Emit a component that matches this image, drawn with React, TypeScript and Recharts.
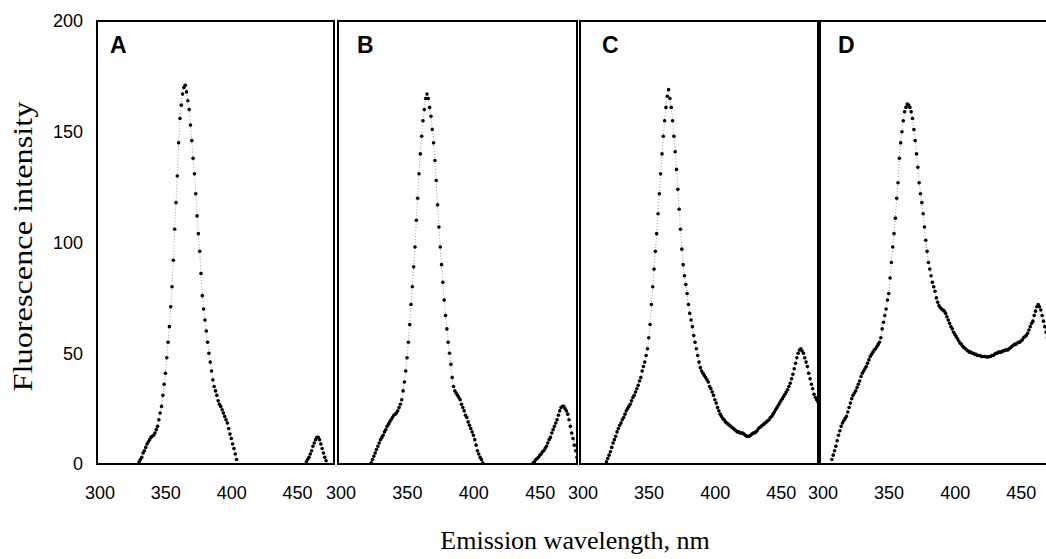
import React from 'react';
import { LineChart, Line, XAxis, YAxis, ReferenceArea } from 'recharts';

// Axes
const X_TICKS = [300, 350, 400, 450];
const Y_TICKS = [0, 50, 100, 150, 200];
const X_DOMAIN: [number, number] = [300, 480];
const Y_DOMAIN: [number, number] = [0, 200];
const PANEL_LABELS = ['A', 'B', 'C', 'D'];
const Y_TITLE = 'Fluorescence intensity';
const X_TITLE = 'Emission wavelength, nm';

// Spectra, sampled every 1 nm starting at the given wavelength
const A_PEAK_START = 332;
const A_PEAK = [1, 2, 3, 5, 6, 7.5, 9, 10, 11, 12, 12.5, 13, 14, 15.5, 17, 20, 23, 26, 31, 36, 41, 48, 55, 62, 71, 80, 92, 106, 118, 130, 145, 156, 162, 167, 170, 171, 168, 164, 160, 153, 146, 138, 131, 122, 112, 104, 96, 86, 76, 70, 65, 60, 55, 50, 46, 42, 38, 35, 33, 31, 28.5, 27, 26, 24.5, 23, 21.5, 20, 18.5, 16, 13.5, 11.5, 9, 7, 4.5, 2];
const A_TAIL_START = 459;
const A_TAIL = [1, 2, 3, 4.5, 6, 8, 9.5, 11, 12, 12, 11, 9, 7, 5, 3, 1.5];

const B_PEAK_START = 325;
const B_PEAK = [0.5, 2, 3.5, 5, 6.5, 8, 9.5, 11, 12, 13, 14.5, 15.5, 17, 18, 19, 20, 21, 22, 22.5, 23, 24, 25.5, 27, 29, 33, 37, 42, 48, 55, 63, 72, 80, 89, 98, 110, 120, 131, 140, 148, 155, 160, 165, 167, 165, 161, 157, 151, 145, 137, 128, 117, 107, 98, 90, 82, 74, 67, 61, 55, 50, 45, 39, 35, 33, 32, 31, 30, 29, 27, 25.5, 24, 22, 21, 19, 17.5, 16, 14.5, 13, 11, 8.5, 6, 4.5, 3, 2, 0.5];
const B_TAIL_START = 447;
const B_TAIL = [0.5, 1, 2, 2.5, 3, 4, 4.5, 5.5, 6, 7, 8, 9.5, 11, 12, 14, 15.5, 17, 18.5, 20, 22, 24, 25.5, 26, 26, 25, 24, 22.5, 20, 17, 14, 11.5, 8.5, 6, 3, 1];

const C_START = 320;
const C_VALUES = [1, 2.5, 4, 5.5, 7.5, 9.5, 11, 12.5, 14.5, 16, 17.5, 18.5, 20, 21, 22.5, 24, 25, 26, 27, 28.5, 30, 31, 32.5, 34, 35.5, 37.5, 39, 42, 44, 46, 49, 52, 57, 63, 72, 80, 88, 96, 104, 113, 122, 131, 140, 148, 155, 161, 166, 169, 165, 161, 155, 148, 141, 133, 124, 115, 106, 97, 90, 85, 81, 77, 72, 68, 65, 62, 58, 55, 52, 49, 46, 43.5, 42, 41, 40, 39, 38, 37, 35, 34, 32.5, 31, 29, 27.5, 25.5, 24, 22.5, 21.5, 20.5, 20, 19, 18.5, 18, 17.5, 17, 16.5, 16, 15.5, 15, 14.5, 14.5, 14, 14, 14, 13.5, 13, 12.5, 12.5, 12.5, 13, 13.5, 14, 14, 14.5, 15, 16, 16.5, 17, 17.5, 18, 18.5, 19, 19.5, 20, 21, 21.5, 22.5, 23.5, 24.5, 25.5, 26.5, 27.5, 28.5, 29.5, 30.5, 31.5, 32.5, 33.5, 35, 36.5, 38.5, 40.5, 43, 45.5, 48, 50, 51.5, 52, 51, 50, 48, 46, 44, 41, 38.5, 36, 34, 31.5, 30, 29, 28];

const D_START = 309;
const D_VALUES = [2, 4, 6, 8, 10.5, 13, 15, 17, 18.5, 19.5, 20.5, 21.5, 23.5, 25.5, 27.5, 29.5, 31, 32, 33, 34.5, 36, 37.5, 39.5, 41, 42, 43, 44, 45.5, 47, 48.5, 49.5, 50.5, 51.5, 52, 53, 54, 55, 57, 61, 64, 67, 70, 74, 77, 84, 91, 98, 104, 111, 120, 127, 138, 145, 150, 155, 159, 161, 162.5, 162, 161, 159, 156, 151, 146, 140, 134, 127, 122, 118, 113, 107, 101, 96, 91, 88, 85, 82, 80, 78, 75, 73, 71.5, 70.5, 70, 69.5, 69, 68, 66.5, 65, 63.5, 62, 61, 59.5, 58.5, 57.5, 56.5, 55.5, 54.5, 54, 53, 52.5, 52, 51.5, 51, 50.5, 50.5, 50, 50, 49.5, 49.5, 49, 49, 49, 48.5, 48.5, 48.5, 48.5, 48.3, 48.3, 48.5, 48.5, 49, 49, 49.5, 50, 50, 50.5, 50.5, 50.5, 51, 51, 51.5, 51.5, 51.5, 52, 52.5, 53, 53.5, 54, 54, 54.5, 55, 55, 55.5, 56, 57, 57.5, 58, 59, 60.5, 62, 63.5, 64.5, 67, 69, 71, 72, 71, 69.5, 67, 64.5, 62, 59.5, 57, 54];

type Pt = { wl: number; v: number | null };
const toPoints = (start: number, values: number[]): Pt[] => values.map((v, i) => ({ wl: start + i, v }));
const joinSegments = (...segs: Pt[][]): Pt[] => {
  const out: Pt[] = [];
  segs.forEach((s, i) => {
    if (i > 0) out.push({ wl: (out[out.length - 1].wl + s[0].wl) / 2, v: null });
    out.push(...s);
  });
  return out;
};

const PANEL_DATA: Pt[][] = [
  joinSegments(toPoints(A_PEAK_START, A_PEAK), toPoints(A_TAIL_START, A_TAIL)),
  joinSegments(toPoints(B_PEAK_START, B_PEAK), toPoints(B_TAIL_START, B_TAIL)),
  toPoints(C_START, C_VALUES),
  toPoints(D_START, D_VALUES),
];

const PANEL_LEFT = [97, 338, 580, 820];
const PANEL_WIDTH = [237, 239, 238, 238];
const LETTER_DX = [13, 19, 22, 18];
const SIDE_PAD = 30;

const SANS = '"Liberation Sans", Arial, Helvetica, sans-serif';
const SERIF = '"Liberation Serif", "Times New Roman", Times, serif';
const PLOT_TOP = 21;
const CHART_H = 559;
const XAXIS_H = 95;

function Panel({ idx }: { idx: number }) {
  const first = idx === 0;
  const left = PANEL_LEFT[idx];
  const yAxisW = first ? left : 0;
  const padL = first ? 0 : SIDE_PAD;
  const chartW = yAxisW + padL + PANEL_WIDTH[idx] + SIDE_PAD;
  const letter = PANEL_LABELS[idx];
  const dx = LETTER_DX[idx];
  return (
    <div style={{ position: 'absolute', left: first ? 0 : left - padL, top: 0 }}>
      <LineChart
        width={chartW}
        height={CHART_H}
        data={PANEL_DATA[idx]}
        margin={{ top: PLOT_TOP, right: SIDE_PAD, bottom: 0, left: padL }}
      >
        <XAxis
          type="number"
          dataKey="wl"
          domain={X_DOMAIN}
          ticks={X_TICKS}
          interval={0}
          allowDataOverflow
          height={XAXIS_H}
          axisLine={false}
          tickLine={false}
          tickSize={0}
          tickMargin={22}
          tick={{ fill: '#000', fontSize: 18, fontFamily: SANS, dx: 3 }}
        />
        <YAxis
          type="number"
          domain={Y_DOMAIN}
          ticks={Y_TICKS}
          interval={0}
          hide={!first}
          width={yAxisW}
          axisLine={false}
          tickLine={false}
          tickSize={0}
          tickMargin={14}
          tick={{ fill: '#000', fontSize: 18, fontFamily: SANS }}
          label={
            first
              ? {
                  content: (props: any) => {
                    const vb = props.viewBox || { x: 0, y: PLOT_TOP, width: left, height: 443 };
                    const cx = 32;
                    const cy = vb.y + vb.height / 2 + 4;
                    return (
                      <text
                        x={cx}
                        y={cy}
                        transform={`rotate(-90, ${cx}, ${cy})`}
                        textAnchor="middle"
                        fontSize={28}
                        textLength={290}
                        lengthAdjust="spacingAndGlyphs"
                        fontFamily={SERIF}
                        fill="#000"
                      >
                        {Y_TITLE}
                      </text>
                    );
                  },
                }
              : undefined
          }
        />
        <ReferenceArea
          x1={X_DOMAIN[0]}
          x2={X_DOMAIN[1]}
          y1={Y_DOMAIN[0]}
          y2={Y_DOMAIN[1]}
          fill="none"
          fillOpacity={0}
          stroke="#000"
          strokeWidth={2}
          ifOverflow="visible"
          label={{
            content: (props: any) => {
              const vb = props.viewBox || { x: left, y: PLOT_TOP };
              return (
                <text x={vb.x + dx} y={vb.y + 32} fontSize={23} fontWeight="bold" fontFamily={SANS} fill="#000">
                  {letter}
                </text>
              );
            },
          }}
        />
        <Line
          type="linear"
          dataKey="v"
          stroke="#9a9a9a"
          strokeWidth={1}
          strokeDasharray="1 2"
          connectNulls={false}
          dot={{ r: 1.8, fill: '#000', stroke: 'none' }}
          activeDot={false}
          isAnimationActive={false}
        />
      </LineChart>
    </div>
  );
}

export default function App() {
  return (
    <div
      style={{
        position: 'absolute',
        left: 0,
        top: 0,
        width: 1046,
        height: 559,
        overflow: 'hidden',
        background: '#fff',
      }}
    >
      {PANEL_LABELS.map((_, i) => (
        <Panel key={i} idx={i} />
      ))}
      <svg width={1046} height={559} style={{ position: 'absolute', left: 0, top: 0, pointerEvents: 'none' }}>
        <text x={575} y={549} textAnchor="middle" fontSize={26} fontFamily={SERIF} fill="#000">
          {X_TITLE}
        </text>
      </svg>
    </div>
  );
}
